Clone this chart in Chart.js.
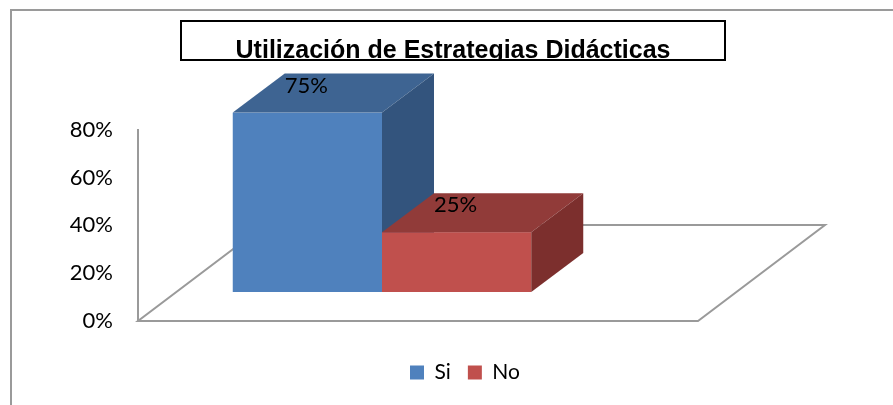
<!DOCTYPE html>
<html>
<head>
<meta charset="utf-8">
<script src="https://cdn.jsdelivr.net/npm/chart.js@4.4.1/dist/chart.umd.min.js"></script>
<style>
  html, body { margin: 0; padding: 0; background: #fff; }
  #wrap { width: 893px; height: 405px; }
</style>
</head>
<body>
<div id="wrap"><canvas id="myChart" width="893" height="405"></canvas></div>
<script>
// data
const chartTitle = 'Utilización de Estrategias Didácticas'
const categories = ['']
const seriesNames = ['Si', 'No']
const seriesValues = [0.75, 0.25]
const yTickValues = [0, 0.2, 0.4, 0.6, 0.8]

// styles
const frontColors = ['#4F81BD', '#C0504D']
const topColors = ['#3E6492', '#913B39']
const sideColors = ['#33547D', '#7C2F2D']
const lineGray = '#9A9A9A'
const tickFont = { family: 'Lato, "Open Sans", sans-serif', size: 22 }
const legendFont = { family: 'Lato, "Open Sans", sans-serif', size: 21 }

// 3d look, in pixels
const floorDepth = { dx: 127, dy: -96 }
const floorWidth = 560
const barFront = { dx: 38, dy: -29 }
const barDepth = { dx: 52, dy: -39 }

function pct(v) { return Math.round(v * 100) + '%' }

const box3d = {
  id: 'box3d',
  afterLayout(chart) {
    // legend sits a bit right of centre in the original
    chart.legend.left += 12
    chart.legend.right += 12
  },
  beforeDatasetDraw() { return false },
  beforeDatasetsDraw(chart) {
    // floor
    let ctx = chart.ctx
    let y0 = chart.scales.y.getPixelForValue(0)
    let x0 = chart.chartArea.left
    ctx.save()
    ctx.strokeStyle = lineGray
    ctx.lineWidth = 2
    ctx.beginPath()
    ctx.moveTo(x0, y0)
    ctx.lineTo(x0 + floorWidth, y0)
    ctx.lineTo(x0 + floorWidth + floorDepth.dx, y0 + floorDepth.dy)
    ctx.lineTo(x0 + floorDepth.dx, y0 + floorDepth.dy)
    ctx.closePath()
    ctx.stroke()
    ctx.restore()
  },
  afterDatasetsDraw(chart) {
    let ctx = chart.ctx
    chart.data.datasets.forEach((ds, i) => {
      let bar = chart.getDatasetMeta(i).data[0]
      let p = bar.getProps(['x', 'y', 'base', 'width'], true)
      let l = p.x - p.width / 2 + barFront.dx
      let r = p.x + p.width / 2 + barFront.dx
      let t = p.y + barFront.dy
      let b = p.base + barFront.dy
      let dx = barDepth.dx, dy = barDepth.dy
      ctx.save()
      ctx.fillStyle = frontColors[i]
      ctx.fillRect(l, t, r - l, b - t)
      ctx.fillStyle = topColors[i]
      ctx.beginPath()
      ctx.moveTo(l, t); ctx.lineTo(r, t); ctx.lineTo(r + dx, t + dy); ctx.lineTo(l + dx, t + dy)
      ctx.closePath(); ctx.fill()
      ctx.fillStyle = sideColors[i]
      ctx.beginPath()
      ctx.moveTo(r, t); ctx.lineTo(r + dx, t + dy); ctx.lineTo(r + dx, b + dy); ctx.lineTo(r, b)
      ctx.closePath(); ctx.fill()
      // value label on the top face
      ctx.fillStyle = '#000'
      ctx.font = tickFont.size + 'px ' + tickFont.family
      ctx.textAlign = 'left'
      ctx.textBaseline = 'top'
      ctx.fillText(pct(ds.data[0]), l + dx, t + dy + 1)
      ctx.restore()
    })
  },
  afterDraw(chart) {
    let ctx = chart.ctx
    let cx = (chart.titleBlock.left + chart.titleBlock.right) / 2
    ctx.save()
    // hide title descenders below the box line
    ctx.fillStyle = '#fff'
    ctx.fillRect(cx - 272, 61, 544, 8)
    ctx.strokeStyle = '#000'
    ctx.lineWidth = 2
    ctx.strokeRect(cx - 272, 21, 544, 39)
    // outer frame
    ctx.strokeStyle = lineGray
    ctx.beginPath()
    ctx.moveTo(11, 405); ctx.lineTo(11, 10); ctx.lineTo(893, 10)
    ctx.stroke()
    ctx.restore()
  }
}

let ctx = document.getElementById('myChart').getContext('2d')
let myChart = new Chart(ctx, {
  type: 'bar',
  data: {
    labels: categories,
    datasets: seriesNames.map((name, i) => ({
      label: name,
      data: [seriesValues[i]],
      backgroundColor: frontColors[i],
      borderWidth: 0,
      categoryPercentage: 0.7245,
      barPercentage: 1
    }))
  },
  options: {
    responsive: false,
    animation: false,
    devicePixelRatio: 1,
    layout: { padding: { left: 13, top: 0, right: 0, bottom: 12 } },
    plugins: {
      title: {
        display: true,
        text: chartTitle,
        color: '#000',
        font: { family: '"Liberation Sans Narrow", "Liberation Sans", sans-serif', size: 25, weight: 'bold' },
        padding: { top: 36.5, bottom: 63.1 }
      },
      legend: {
        position: 'bottom',
        labels: { color: '#000', font: legendFont, boxWidth: 14, boxHeight: 14, padding: 17 }
      },
      tooltip: { enabled: false }
    },
    scales: {
      x: {
        display: true,
        grid: { display: false },
        border: { display: false },
        ticks: { display: false },
        afterFit(s) { s.height = 24 }
      },
      y: {
        min: 0,
        max: 0.8,
        afterBuildTicks(s) { s.ticks = yTickValues.map(v => ({ value: v })) },
        grid: { display: false, drawTicks: false },
        border: { display: true, color: lineGray, width: 2 },
        ticks: { color: '#000', font: tickFont, padding: 25, callback: v => pct(v) },
        afterFit(s) { s.width = 125 }
      },
      spacer: {
        position: 'right',
        display: true,
        grid: { display: false },
        border: { display: false },
        ticks: { display: false },
        afterFit(s) { s.width = 343 }
      }
    }
  },
  plugins: [box3d]
})
</script>
</body>
</html>
